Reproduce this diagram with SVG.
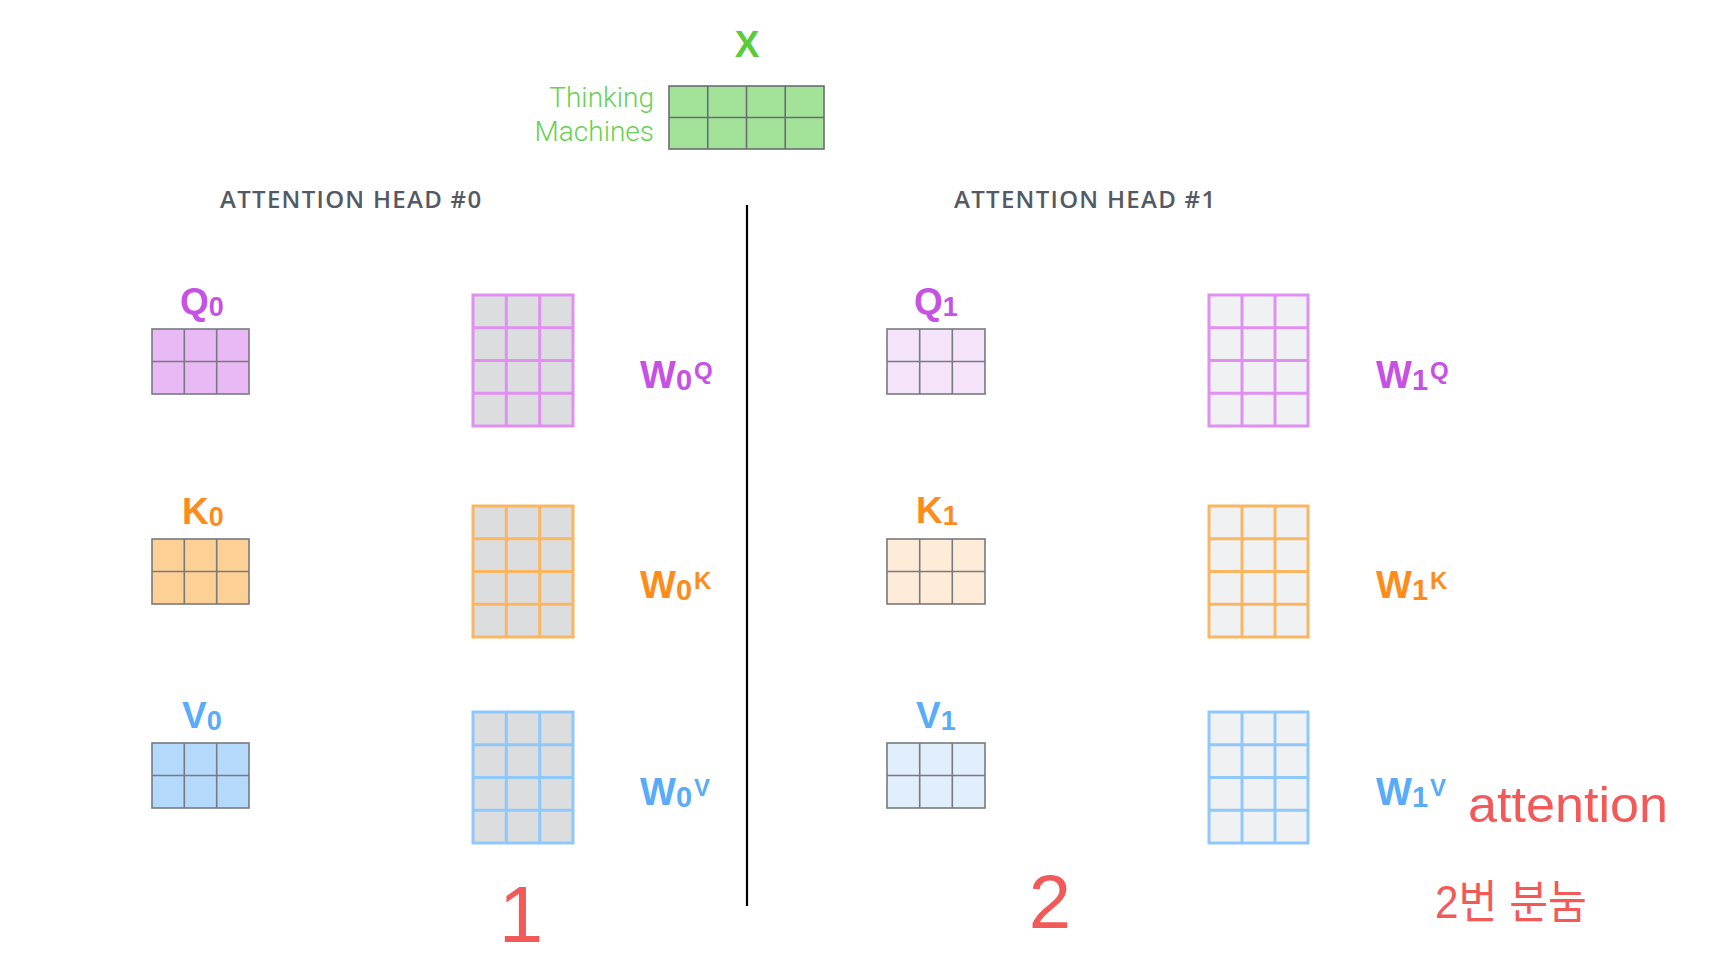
<svg xmlns="http://www.w3.org/2000/svg" width="1710" height="961" viewBox="0 0 1710 961">
<style>
.sg{stroke:#777a7e;stroke-width:1.6}
.xg{stroke:#6a6d70;stroke-width:1.6}
.wg{stroke-width:3}
.lbl{font-family:"Liberation Sans",Arial,sans-serif;font-weight:bold}
.q{fill:#c552e4}.k{fill:#fd8c1c}.v{fill:#58acf9}
.wq{stroke:#df90f0}.wk{stroke:#fbb662}.wv{stroke:#8fc8fb}
.w0{fill:#dcdddf}.w1{fill:#f0f1f3}
.hd{font-family:"Open Sans","Liberation Sans",sans-serif;font-size:24px;font-weight:600;fill:#545a63;letter-spacing:1.3px}
.hw{fill:#f25a5a;font-family:"Liberation Sans","Noto Sans CJK KR",sans-serif}
</style>
<rect width="1710" height="961" fill="#ffffff"/>

<g id="input-x">
<text x="747" y="57" text-anchor="middle" class="lbl" font-size="37" fill="#5acc3c">X</text>
<text x="654" y="107" text-anchor="end" font-family="Roboto,'Liberation Sans',sans-serif" font-weight="300" font-size="28" fill="#66d152">Thinking</text>
<text x="654" y="141" text-anchor="end" font-family="Roboto,'Liberation Sans',sans-serif" font-weight="300" font-size="28" fill="#66d152">Machines</text>
<rect x="669" y="86" width="155" height="63" fill="#a3e399" class="xg"/>
<path class="xg" d="M707.75 86V149M746.5 86V149M785.25 86V149M669 117.5H824"/>
</g>

<g id="headers">
<text x="220" y="208" class="hd">ATTENTION HEAD #0</text>
<text x="954" y="208" class="hd">ATTENTION HEAD #1</text>
</g>

<g id="divider">
<line x1="747" y1="205" x2="747" y2="906" stroke="#000" stroke-width="2.2"/>
</g>

<g id="q0">
<text x="180" y="314" class="lbl q" font-size="37">Q<tspan font-size="27" dy="2">0</tspan></text>
<rect x="152" y="329" width="97" height="65" fill="#e8b9f5" class="sg"/>
<path class="sg" d="M184.3 329V394M216.7 329V394M152 361.5H249"/>
</g>
<g id="k0">
<text x="182" y="524" class="lbl k" font-size="37">K<tspan font-size="27" dy="2">0</tspan></text>
<rect x="152" y="539" width="97" height="65" fill="#fdd096" class="sg"/>
<path class="sg" d="M184.3 539V604M216.7 539V604M152 571.5H249"/>
</g>
<g id="v0">
<text x="182" y="728" class="lbl v" font-size="37">V<tspan font-size="27" dy="2">0</tspan></text>
<rect x="152" y="743" width="97" height="65" fill="#b4d9fd" class="sg"/>
<path class="sg" d="M184.3 743V808M216.7 743V808M152 775.5H249"/>
</g>

<g id="w0q">
<rect x="473" y="295" width="100" height="131" class="w0 wg wq"/>
<path class="wg wq" d="M506.3 295V426M539.7 295V426M473 327.75H573M473 360.5H573M473 393.25H573"/>
<text x="640" y="388" class="lbl q" font-size="38">W<tspan font-size="29" dy="2">0</tspan><tspan font-size="24" dy="-11" dx="2">Q</tspan></text>
</g>
<g id="w0k">
<rect x="473" y="506" width="100" height="131" class="w0 wg wk"/>
<path class="wg wk" d="M506.3 506V637M539.7 506V637M473 538.75H573M473 571.5H573M473 604.25H573"/>
<text x="640" y="598" class="lbl k" font-size="38">W<tspan font-size="29" dy="2">0</tspan><tspan font-size="24" dy="-11" dx="2">K</tspan></text>
</g>
<g id="w0v">
<rect x="473" y="712" width="100" height="131" class="w0 wg wv"/>
<path class="wg wv" d="M506.3 712V843M539.7 712V843M473 744.75H573M473 777.5H573M473 810.25H573"/>
<text x="640" y="805" class="lbl v" font-size="38">W<tspan font-size="29" dy="2">0</tspan><tspan font-size="24" dy="-11" dx="2">V</tspan></text>
</g>

<g id="q1">
<text x="914" y="314" class="lbl q" font-size="37">Q<tspan font-size="27" dy="2">1</tspan></text>
<rect x="887" y="329" width="98" height="65" fill="#f5e3fa" class="sg"/>
<path class="sg" d="M919.7 329V394M952.3 329V394M887 361.5H985"/>
</g>
<g id="k1">
<text x="916" y="523" class="lbl k" font-size="37">K<tspan font-size="27" dy="2">1</tspan></text>
<rect x="887" y="539" width="98" height="65" fill="#feebd8" class="sg"/>
<path class="sg" d="M919.7 539V604M952.3 539V604M887 571.5H985"/>
</g>
<g id="v1">
<text x="916" y="728" class="lbl v" font-size="37">V<tspan font-size="27" dy="2">1</tspan></text>
<rect x="887" y="743" width="98" height="65" fill="#e1eefc" class="sg"/>
<path class="sg" d="M919.7 743V808M952.3 743V808M887 775.5H985"/>
</g>

<g id="w1q">
<rect x="1209" y="295" width="99" height="131" class="w1 wg wq"/>
<path class="wg wq" d="M1242 295V426M1275 295V426M1209 327.75H1308M1209 360.5H1308M1209 393.25H1308"/>
<text x="1376" y="388" class="lbl q" font-size="38">W<tspan font-size="29" dy="2">1</tspan><tspan font-size="24" dy="-11" dx="2">Q</tspan></text>
</g>
<g id="w1k">
<rect x="1209" y="506" width="99" height="131" class="w1 wg wk"/>
<path class="wg wk" d="M1242 506V637M1275 506V637M1209 538.75H1308M1209 571.5H1308M1209 604.25H1308"/>
<text x="1376" y="598" class="lbl k" font-size="38">W<tspan font-size="29" dy="2">1</tspan><tspan font-size="24" dy="-11" dx="2">K</tspan></text>
</g>
<g id="w1v">
<rect x="1209" y="712" width="99" height="131" class="w1 wg wv"/>
<path class="wg wv" d="M1242 712V843M1275 712V843M1209 744.75H1308M1209 777.5H1308M1209 810.25H1308"/>
<text x="1376" y="805" class="lbl v" font-size="38">W<tspan font-size="29" dy="2">1</tspan><tspan font-size="24" dy="-11" dx="2">V</tspan></text>
</g>

<g id="annotations">
<text x="521" y="942" text-anchor="middle" class="hw" font-size="80">1</text>
<text x="1050" y="928" text-anchor="middle" class="hw" font-size="76">2</text>
<text x="1468" y="822" class="hw" font-size="50" textLength="200" lengthAdjust="spacingAndGlyphs">attention</text>
<text x="1435" y="918" class="hw" font-size="46" textLength="152" lengthAdjust="spacingAndGlyphs">2번 분눔</text>
</g>
</svg>
